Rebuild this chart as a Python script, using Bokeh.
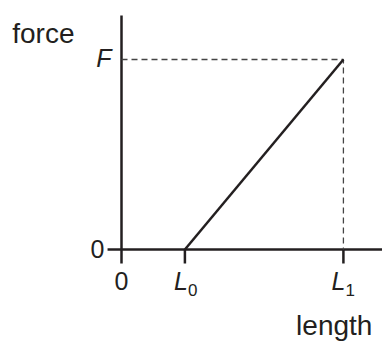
from bokeh.plotting import figure
from bokeh.models import Range1d
from bokeh.core.properties import value
from bokeh.embed import file_html
from bokeh.resources import INLINE

# data (arbitrary units)
L0 = 2.0
L1 = 7.0
F = 1.0
length_vals = [L0, L1]
force_vals = [0.0, F]

INK = "#231f20"
FONT = "Liberation Sans"

p = figure(width=382, height=341, output_backend="svg", toolbar_location=None,
           x_range=Range1d(-3.817, 8.233), y_range=Range1d(-0.4842, 1.3105),
           min_border=0, outline_line_color=None)
p.axis.visible = False
p.grid.visible = False
p.background_fill_color = None
p.border_fill_color = None

# axes drawn as lines
p.segment(x0=[0], y0=[-0.0737], x1=[0], y1=[1.2316], line_color=INK, line_width=2.5)
p.segment(x0=[-0.44], y0=[0], x1=[8.5], y1=[0], line_color=INK, line_width=2.5)
# ticks under length values
p.segment(x0=length_vals, y0=[0, 0], x1=length_vals, y1=[-0.0737, -0.0737], line_color=INK, line_width=2.5)

# dashed guides
p.line(x=[0, L1, L1], y=[F, F, 0], line_color="#444444", line_width=1.3, line_dash="6 4")

# force-length line
p.line(x=length_vals, y=force_vals, line_color=INK, line_width=2.5)

def txt(x, y, t, size, xo, yo, align="left", baseline="alphabetic", style="normal"):
    p.text(x=[x], y=[y], text=[t], text_font=value(FONT), text_font_size=f"{size}px",
           text_color=INK, x_offset=xo, y_offset=yo - 10, text_align=align,
           text_baseline=baseline, text_font_style=style)

# tick labels
txt(0, 0, "0", 25, -17, 9, align="right")
txt(0, 0, "0", 25, 0, 41, align="center")
txt(L0, 0, "L", 25, -11, 41, style="italic")
txt(L0, 0, "0", 17, 3, 50)
txt(L1, 0, "L", 25, -12, 41, style="italic")
txt(L1, 0, "1", 17, 2, 50)
txt(0, F, "F", 25, -10, 9, align="right", style="italic")

# axis titles
txt(0, F, "force", 28, -47, -16, align="right")
txt(L1, 0, "length", 28, 29, 86, align="right")

open("out.html", "w").write(file_html(p, INLINE))
